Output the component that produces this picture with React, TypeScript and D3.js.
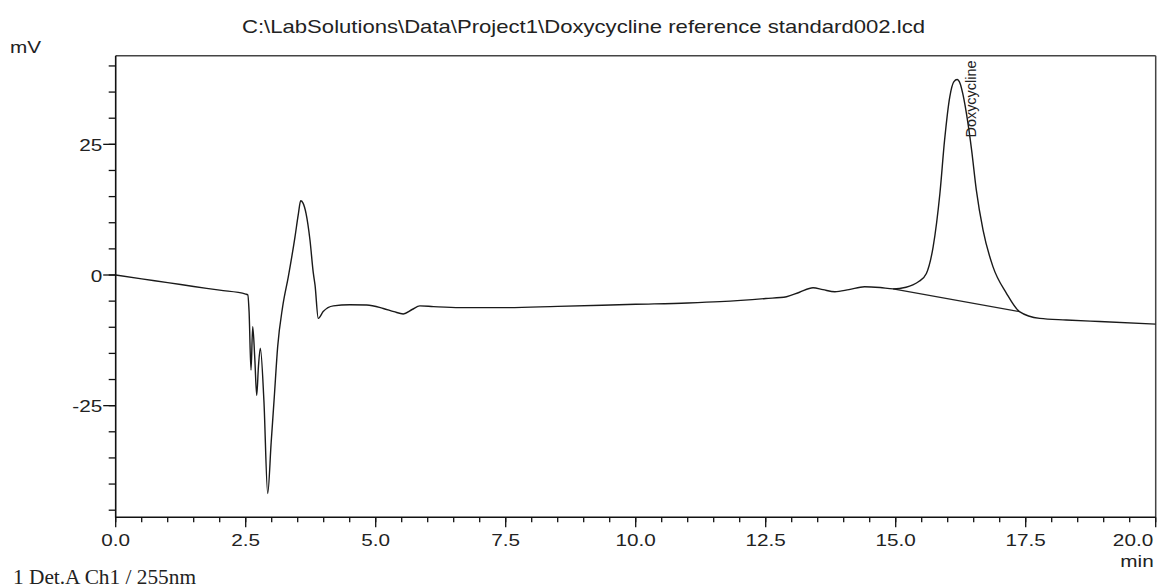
import React from "react";
import * as d3 from "d3";

const TITLE = "C:\\LabSolutions\\Data\\Project1\\Doxycycline reference standard002.lcd";
const Y_UNIT = "mV";
const X_UNIT = "min";
const FOOTER = "1 Det.A Ch1 / 255nm";
const PEAK_NAME = "Doxycycline";

// chromatogram trace (time in min, signal in mV)
const times = [
  0.0, 0.5, 1.0, 1.5, 2.0, 2.5, 2.54, 2.565, 2.602, 2.635, 2.675, 2.712, 2.745, 2.781, 2.85, 2.923,
  2.99, 3.05, 3.115, 3.21, 3.32, 3.448, 3.51, 3.558, 3.6, 3.66, 3.736, 3.8, 3.833, 3.896,
  3.99, 4.185, 4.5, 4.827, 5.146, 5.35, 5.53, 5.7, 5.85, 6.11, 6.62, 7.39, 8.5, 10.0, 11.0,
  11.62, 12.5, 12.9, 13.15, 13.41, 13.6, 13.83, 14.1, 14.4, 14.7, 14.95, 15.2, 15.33, 15.45,
  15.59, 15.72, 15.85, 15.94, 16.04, 16.12, 16.18, 16.24, 16.29, 16.39, 16.46, 16.55, 16.68,
  16.87, 17.13, 17.38, 17.77, 18.28, 18.92, 20.0,
];
const signal = [
  0.0, -0.75, -1.45, -2.2, -2.9, -3.65, -3.8, -7.0, -18.2, -9.9, -16.0, -23.0, -17.5, -14.0, -24.0, -41.8,
  -32.0, -23.3, -13.7, -6.1, -0.3, 7.3, 11.5, 14.2, 13.8, 11.8, 6.7, 0.4, -1.9, -8.3,
  -7.0, -5.9, -5.7, -5.75, -6.4, -7.0, -7.45, -6.6, -5.9, -6.05, -6.25, -6.25, -6.0, -5.6, -5.35,
  -5.1, -4.5, -4.15, -3.3, -2.45, -2.8, -3.2, -2.8, -2.25, -2.4, -2.65, -2.35, -1.9, -1.2,
  0.3, 5.4, 15.6, 25.8, 34.1, 37.0, 37.4, 36.6, 34.7, 29.0, 23.9, 16.3, 8.6,
  1.6, -3.5, -7.0, -8.3, -8.6, -8.9, -9.4,
];

// integration baseline under the Doxycycline peak
const baseTimes = [14.95, 17.38];
const baseValues = [-2.65, -7.0];

// peak label position
const peakTime = [16.18];
const peakValue = [37.4];

const xMajorTicks = [0, 2.5, 5, 7.5, 10, 12.5, 15, 17.5, 20];
const xMinorTicks = d3.range(0, 20.01, 0.5);
const yMajorTicks = [-25, 0, 25];
const yMinorTicks = d3.range(-45, 41, 5);

const W = 1157;
const H = 587;
const FONT = "'Liberation Sans', Arial, sans-serif";
const SX = 1.22;

export default function App() {
  const x = d3.scaleLinear().domain([0, 20]).range([115.7, 1155.7]);
  const y = d3.scaleLinear().domain([-46.36, 41.96]).range([517.3, 55.7]);

  const pts = times.map((t, i) => [t, signal[i]] as [number, number]);
  const line = d3
    .line<[number, number]>()
    .x((d) => x(d[0]))
    .y((d) => y(d[1]))
    .curve(d3.curveMonotoneX);

  const basePts = baseTimes.map((t, i) => [t, baseValues[i]] as [number, number]);
  const baseLine = d3
    .line<[number, number]>()
    .x((d) => x(d[0]))
    .y((d) => y(d[1]));

  const [x0, x1] = x.range();
  const [yb, yt] = y.range();

  return (
    <svg
      width={W}
      height={H}
      style={{ position: "absolute", left: 0, top: 0, background: "#fff" }}
      fontFamily={FONT}
    >
      <rect x={0} y={0} width={W} height={H} fill="#fff" />
      {/* title */}
      <text x={242} y={33} fontSize={19} fill="#222" textLength={683} lengthAdjust="spacingAndGlyphs">
        {TITLE}
      </text>
      {/* y unit */}
      <g transform={`translate(10,53) scale(${SX},1)`}>
        <text x={0} y={0} fontSize={17} fill="#222">
          {Y_UNIT}
        </text>
      </g>

      {/* frame */}
      <line x1={x0} x2={x1} y1={yt} y2={yt} stroke="#444" strokeWidth={1.5} />
      <line x1={x1} x2={x1} y1={yt} y2={yb} stroke="#444" strokeWidth={1.5} />
      <line x1={x0} x2={x0} y1={yt} y2={yb + 0.5} stroke="#111" strokeWidth={1.6} />
      <line x1={x0 - 0.5} x2={x1} y1={yb} y2={yb} stroke="#111" strokeWidth={1.6} />

      {/* y ticks */}
      {yMinorTicks.map((v) => (
        <line key={"ym" + v} x1={x0 - 7} x2={x0} y1={y(v)} y2={y(v)} stroke="#111" strokeWidth={1.3} />
      ))}
      {yMajorTicks.map((v) => (
        <g key={"yM" + v}>
          <line x1={x0 - 12.5} x2={x0} y1={y(v)} y2={y(v)} stroke="#111" strokeWidth={1.3} />
          <g transform={`translate(${x0 - 13.5},${y(v) + 6.5}) scale(${SX},1)`}>
            <text x={0} y={0} fontSize={17} textAnchor="end" fill="#222">
              {String(v)}
            </text>
          </g>
        </g>
      ))}

      {/* x ticks */}
      {xMinorTicks.map((v) => (
        <line key={"xm" + v} x1={x(v)} x2={x(v)} y1={yb} y2={yb + 5} stroke="#111" strokeWidth={1.3} />
      ))}
      {xMajorTicks.map((v, i) => {
        const last = i === xMajorTicks.length - 1;
        return (
          <g key={"xM" + v}>
            <line x1={x(v)} x2={x(v)} y1={yb} y2={yb + 10} stroke="#111" strokeWidth={1.3} />
            <g transform={`translate(${last ? x(v) - 2.5 : x(v)},545.5) scale(${SX},1)`}>
              <text x={0} y={0} fontSize={17} textAnchor={last ? "end" : "middle"} fill="#222">
                {v.toFixed(1)}
              </text>
            </g>
          </g>
        );
      })}
      <g transform={`translate(${x1 - 2},567) scale(${SX},1)`}>
        <text x={0} y={0} fontSize={17} textAnchor="end" fill="#222">
          {X_UNIT}
        </text>
      </g>

      {/* baseline + trace */}
      <path d={baseLine(basePts) || ""} fill="none" stroke="#222" strokeWidth={1.3} />
      <path d={line(pts) || ""} fill="none" stroke="#1a1a1a" strokeWidth={1.4} strokeLinejoin="round" />

      {/* peak label */}
      <text
        transform={`translate(${x(peakTime[0]) + 18.5},${y(peakValue[0]) + 58}) rotate(-90)`}
        fontSize={14}
        fill="#222"
        textLength={77}
        lengthAdjust="spacingAndGlyphs"
      >
        {PEAK_NAME}
      </text>

      {/* footer */}
      <text
        x={13}
        y={584}
        fontSize={20}
        fontFamily="'Liberation Serif', 'Times New Roman', serif"
        fill="#222"
        textLength={183}
        lengthAdjust="spacingAndGlyphs"
      >
        {FOOTER}
      </text>
    </svg>
  );
}
